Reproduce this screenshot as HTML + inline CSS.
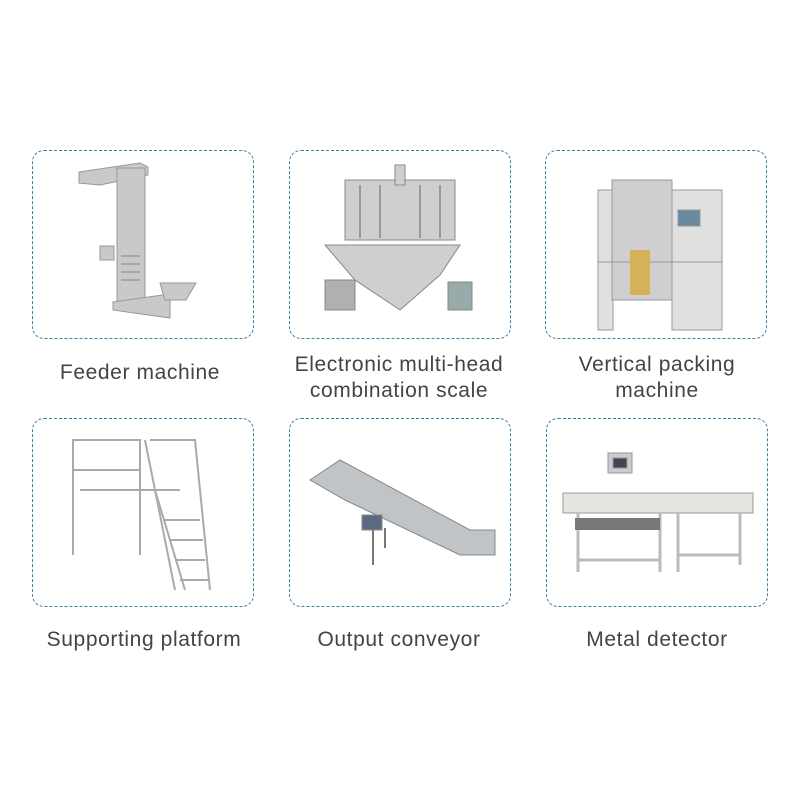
<!DOCTYPE html>
<html><head><meta charset="utf-8"><style>
body{margin:0;width:800px;height:800px;background:#fff;position:relative;overflow:hidden;font-family:"Liberation Sans",sans-serif}
.b{position:absolute;width:222px;height:189px;border:1.5px dashed #3f7f9f;border-radius:12px;box-sizing:border-box}
.t{position:absolute;width:260px;text-align:center;color:#444;font-size:21px;letter-spacing:0.6px;line-height:26px}
svg{position:absolute;left:0;top:0}
</style></head><body>
<div class="b" style="left:32px;top:150px"></div>
<div class="b" style="left:289px;top:150px"></div>
<div class="b" style="left:545px;top:150px"></div>
<div class="b" style="left:32px;top:418px"></div>
<div class="b" style="left:289px;top:418px"></div>
<div class="b" style="left:546px;top:418px"></div>
<div class="t" style="left:10px;top:360px">Feeder machine</div>
<div class="t" style="left:269px;top:352px">Electronic multi-head<br>combination scale</div>
<div class="t" style="left:527px;top:352px">Vertical packing<br>machine</div>
<div class="t" style="left:14px;top:627px">Supporting platform</div>
<div class="t" style="left:269px;top:627px">Output conveyor</div>
<div class="t" style="left:527px;top:627px">Metal detector</div>
<svg width="800" height="800">
<g fill="#c9c9c9" stroke="#999" stroke-width="1">
<polygon points="79,172 140,163 148,167 148,175 100,185 79,183"/>
<rect x="117" y="168" width="28" height="140"/>
<polygon points="113,302 170,294 170,318 113,310"/>
<polygon points="160,283 196,283 186,300 165,300"/>
<rect x="100" y="246" width="14" height="14"/>
</g>
<g stroke="#888"><line x1="121" y1="256" x2="140" y2="256"/><line x1="121" y1="264" x2="140" y2="264"/><line x1="121" y1="272" x2="140" y2="272"/><line x1="121" y1="280" x2="140" y2="280"/></g>
<g fill="#cfcfcf" stroke="#888">
<rect x="345" y="180" width="110" height="60"/>
<polygon points="325,245 460,245 440,275 400,310 355,280"/>
<rect x="325" y="280" width="30" height="30" fill="#b0b0b0"/>
<rect x="448" y="282" width="24" height="28" fill="#9aa"/>
<rect x="395" y="165" width="10" height="20"/>
</g>
<g stroke="#666"><line x1="360" y1="185" x2="360" y2="238"/><line x1="380" y1="185" x2="380" y2="238"/><line x1="420" y1="185" x2="420" y2="238"/><line x1="440" y1="185" x2="440" y2="238"/></g>
<g fill="#e0e0e0" stroke="#999">
<rect x="598" y="190" width="15" height="140"/>
<rect x="672" y="190" width="50" height="140"/>
<rect x="612" y="180" width="60" height="120" fill="#cfcfcf"/>
<rect x="678" y="210" width="22" height="16" fill="#6a8aa0"/>
<line x1="598" y1="262" x2="722" y2="262"/>
</g>
<rect x="630" y="250" width="20" height="45" fill="#d4b25a"/>
<g stroke="#aaa" stroke-width="2" fill="none">
<polyline points="73,555 73,440 140,440 140,555"/>
<line x1="80" y1="490" x2="180" y2="490"/>
<line x1="73" y1="470" x2="140" y2="470"/>
<polyline points="150,440 195,440 210,590"/>
<line x1="155" y1="490" x2="185" y2="590"/>
<line x1="145" y1="440" x2="175" y2="590"/>
<line x1="165" y1="520" x2="200" y2="520"/><line x1="170" y1="540" x2="203" y2="540"/><line x1="175" y1="560" x2="205" y2="560"/><line x1="180" y1="580" x2="208" y2="580"/>
</g>
<g fill="#c0c4c6" stroke="#888">
<polygon points="310,480 340,460 470,530 495,530 495,555 460,555 345,500"/>
<rect x="362" y="515" width="20" height="15" fill="#5a6a80"/>
</g>
<g stroke="#777" stroke-width="2"><line x1="373" y1="530" x2="373" y2="565"/><line x1="385" y1="528" x2="385" y2="548"/></g>
<g fill="#e6e4df" stroke="#999">
<rect x="563" y="493" width="190" height="20"/>
<rect x="608" y="453" width="24" height="20" fill="#ccc"/>
<rect x="613" y="458" width="14" height="10" fill="#445"/>
</g>
<g stroke="#bbb" stroke-width="3" fill="none"><line x1="578" y1="513" x2="578" y2="572"/><line x1="660" y1="513" x2="660" y2="572"/><line x1="678" y1="513" x2="678" y2="572"/><line x1="740" y1="513" x2="740" y2="565"/><line x1="578" y1="560" x2="660" y2="560"/><line x1="678" y1="555" x2="740" y2="555"/></g>
<rect x="575" y="518" width="85" height="12" fill="#777"/>
</svg>
</body></html>
